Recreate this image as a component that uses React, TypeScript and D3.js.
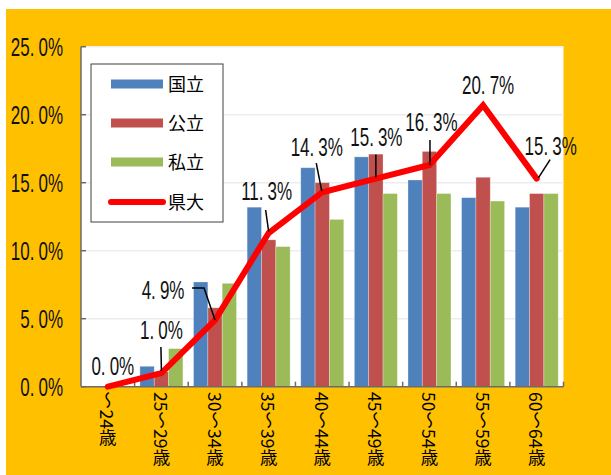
import React from 'react';
import * as d3 from 'd3';

const categories = ['～24歳', '25～29歳', '30～34歳', '35～39歳', '40～44歳', '45～49歳', '50～54歳', '55～59歳', '60～64歳'];
const seriesNames = ['国立', '公立', '私立'];
const kokuritsu = [0, 1.5, 7.7, 13.2, 16.1, 16.9, 15.2, 13.9, 13.2];
const kouritsu = [0, 1.1, 5.8, 10.8, 15.0, 17.1, 17.3, 15.4, 14.2];
const shiritsu = [0, 2.8, 7.6, 10.3, 12.3, 14.2, 14.2, 13.65, 14.2];
const lineName = '県大';
const kendai = [0.0, 1.0, 4.9, 11.3, 14.3, 15.3, 16.3, 20.7, 15.3];
const yTicks = [0, 5, 10, 15, 20, 25];

// label placement (layout only): text centre offset and leader line points relative to the point
const labelLayout: { dx: number; dy: number; leader: [number, number][] | null }[] = [
  { dx: 5, dy: -21, leader: null },
  { dx: 0, dy: -43, leader: [[-0.5, -26], [0, -2]] },
  { dx: -52, dy: -30, leader: [[-23, -32], [-11, -32], [0, 0]] },
  { dx: -2, dy: -42, leader: [[-3, -23], [0, -1.5]] },
  { dx: -5.5, dy: -45, leader: [[-6, -29], [-0.5, -1]] },
  { dx: 0.5, dy: -41.5, leader: [[0, -24], [0, -1]] },
  { dx: 2, dy: -43, leader: [[0.5, -25], [0.5, 0]] },
  { dx: 5, dy: -20, leader: null },
  { dx: 14, dy: -33, leader: [[13.4, -19], [1.7, -0.7]] },
];

const W = 611, H = 475;
const plot = { left: 81, right: 563.5, top: 46.7, bottom: 386.7 };
const colors = ['#4F81BD', '#C0504D', '#9BBB59'];
const numFont = '"Liberation Sans", Arial, sans-serif';
const jpFont = '"Noto Sans CJK JP", sans-serif';

function Pct({ v, x, y, anchor }: { v: number; x: number; y: number; anchor: string }) {
  const s = v.toFixed(1);
  const [a, b] = s.split('.');
  return (
    <g transform={`translate(${x},${y}) scale(0.68,1)`}>
      <text x={0} y={0} textAnchor={anchor} fontFamily={numFont} fontSize={25} fill="#111">
        {a + '.'}
        <tspan dx={6}>{b + '%'}</tspan>
      </text>
    </g>
  );
}

export default function App() {
  const x = d3.scaleBand<string>().domain(categories).range([plot.left, plot.right]).padding(0);
  const xi = d3.scaleBand<string>().domain(seriesNames).range([0, x.bandwidth()]).paddingInner(0).paddingOuter(0.37);
  const y = d3.scaleLinear().domain([0, 25]).range([plot.bottom, plot.top]);
  const series = [kokuritsu, kouritsu, shiritsu];
  const cx = (c: string) => (x(c) as number) + x.bandwidth() / 2;
  const line = d3.line<number>().x((_, i) => cx(categories[i])).y(d => y(d));
  const pts = kendai.map((v, i) => [cx(categories[i]), y(v)] as [number, number]);

  return (
    <svg width={W} height={H} style={{ position: 'absolute', left: 0, top: 0 }}>
      <rect x={0} y={0} width={W} height={H} fill="#fff" />
      <rect x={6} y={9} width={W - 6} height={H - 9} fill="#FFC000" />
      <rect x={plot.left} y={plot.top} width={plot.right - plot.left} height={plot.bottom - plot.top} fill="#fff" />
      {yTicks.slice(1).map(t => (
        <line key={t} x1={plot.left} x2={plot.right} y1={y(t)} y2={y(t)} stroke="#EDEDED" strokeWidth={1.5} />
      ))}
      {/* bars */}
      {series.map((s, si) =>
        s.map((v, i) => (
          <rect key={si + '-' + i}
            x={(x(categories[i]) as number) + (xi(seriesNames[si]) as number)}
            y={y(v)} width={xi.bandwidth()} height={plot.bottom - y(v)}
            fill={colors[si]} stroke="rgba(255,255,255,0.35)" strokeWidth={0.8} />
        ))
      )}
      {/* axes */}
      <line x1={plot.left} x2={plot.left} y1={plot.top} y2={plot.bottom} stroke="#6b6b6b" strokeWidth={1.5} />
      <line x1={plot.left} x2={plot.right} y1={plot.bottom} y2={plot.bottom} stroke="#6b6b6b" strokeWidth={1.5} />
      {yTicks.map(t => (
        <line key={'yt' + t} x1={plot.left} x2={plot.left + 5} y1={y(t)} y2={y(t)} stroke="#6b6b6b" strokeWidth={1.5} />
      ))}
      {categories.map((c, i) => (
        <line key={'xt' + i} x1={(x(c) as number) + x.bandwidth()} x2={(x(c) as number) + x.bandwidth()}
          y1={plot.bottom} y2={plot.bottom - 5} stroke="#6b6b6b" strokeWidth={1.5} />
      ))}
      {yTicks.map(t => (
        <Pct key={'yl' + t} v={t} x={63} y={y(t) + 9.3} anchor="end" />
      ))}
      {categories.map(c => (
        <text key={'xl' + c} x={cx(c)} y={392} fontFamily={jpFont} fontSize={17.5} fill="#000"
          style={{ writingMode: 'vertical-rl' } as any}>{c}</text>
      ))}
      {/* line */}
      <path d={line(kendai) as string} fill="none" stroke="#FF0000" strokeWidth={6} strokeLinejoin="miter" strokeLinecap="round" />
      {/* leaders and labels */}
      {pts.map(([px, py], i) => {
        const L = labelLayout[i];
        return (
          <g key={'lab' + i}>
            {L.leader && (
              <polyline points={L.leader.map(([a, b]) => `${px + a},${py + b}`).join(' ')} fill="none" stroke="#000" strokeWidth={1.5} />
            )}
            <Pct v={kendai[i]} x={px + L.dx} y={py + L.dy + 9} anchor="middle" />
          </g>
        );
      })}
      {/* legend */}
      <rect x={91} y={64} width={132} height={158} fill="#fff" stroke="#404040" strokeWidth={1} />
      {seriesNames.map((n, i) => (
        <g key={'lg' + n}>
          <line x1={111} x2={163} y1={84 + i * 39} y2={84 + i * 39} stroke={colors[i]} strokeWidth={9} />
          <text x={168} y={84 + i * 39 + 6.5} fontFamily={jpFont} fontSize={18} fill="#000">{n}</text>
        </g>
      ))}
      <line x1={111} x2={163} y1={202} y2={202} stroke="#FF0000" strokeWidth={6} strokeLinecap="round" />
      <text x={168} y={202 + 6.5} fontFamily={jpFont} fontSize={18} fill="#000">{lineName}</text>
    </svg>
  );
}
